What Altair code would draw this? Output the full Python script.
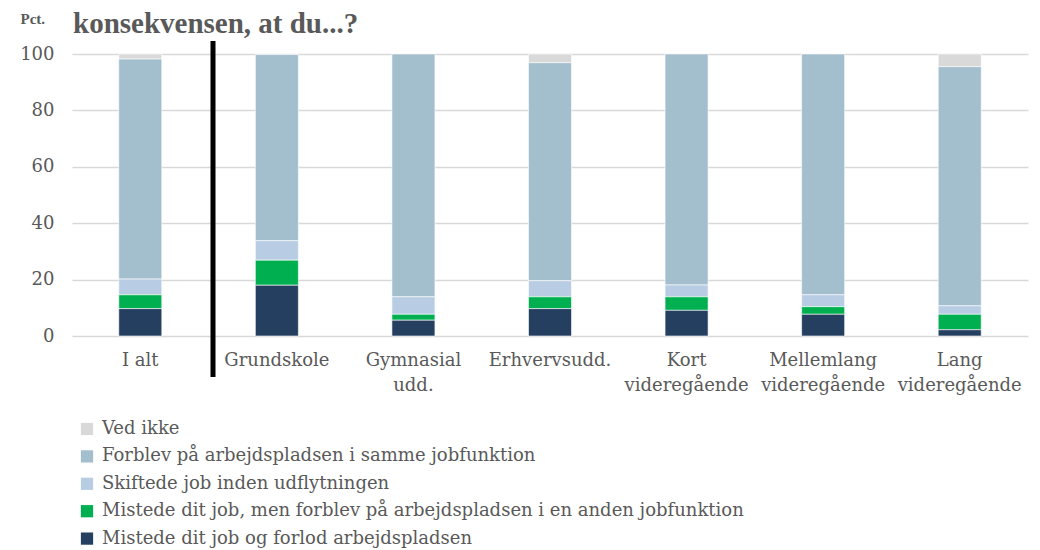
import altair as alt
import pandas as pd

title_text = "konsekvensen, at du...?"
categories = ["I alt", "Grundskole", "Gymnasial\nudd.", "Erhvervsudd.",
              "Kort\nvideregående", "Mellemlang\nvideregående", "Lang\nvideregående"]
series_names = [
    "Ved ikke",
    "Forblev på arbejdspladsen i samme jobfunktion",
    "Skiftede job inden udflytningen",
    "Mistede dit job, men forblev på arbejdspladsen i en anden jobfunktion",
    "Mistede dit job og forlod arbejdspladsen",
]
ved_ikke = [1.8, 0.2, 0.0, 3.1, 0.0, 0.0, 4.5]
forblev = [78.0, 66.0, 86.1, 77.3, 81.9, 85.4, 84.8]
skiftede = [5.6, 6.9, 6.2, 5.7, 4.2, 4.2, 3.0]
mistede_anden = [4.9, 8.9, 2.1, 4.2, 4.8, 2.7, 5.5]
mistede_forlod = [9.7, 18.0, 5.6, 9.7, 9.1, 7.7, 2.2]
colors = ["#D9D9D9", "#A3BECC", "#B8CCE4", "#00B050", "#243F60"]
y_ticks = [0, 20, 40, 60, 80, 100]

series_values = [ved_ikke, forblev, skiftede, mistede_anden, mistede_forlod]
rows = []
for si, (name, vals) in enumerate(zip(series_names, series_values)):
    for ci, cat in enumerate(categories):
        rows.append({"cat": cat, "serie": name, "value": vals[ci], "ord": 4 - si})
df = pd.DataFrame(rows)

FONT = "DejaVu Serif"
TFONT = "Liberation Serif"
GREY = "#595959"

bars = alt.Chart(df).mark_bar(stroke="white", strokeWidth=0.6).encode(
    x=alt.X("cat:N", sort=categories, title=None,
            scale=alt.Scale(paddingInner=0.685, paddingOuter=0.3425),
            axis=alt.Axis(labelAngle=0, domain=False, ticks=False,
                          labelExpr="split(datum.label, '\\n')",
                          labelFont=FONT, labelFontSize=18, labelColor=GREY,
                          labelLineHeight=25, labelPadding=15)),
    y=alt.Y("value:Q", stack="zero",
            scale=alt.Scale(domain=[0, 100], nice=False),
            axis=alt.Axis(values=y_ticks, title="Pct.", titleAngle=0,
                          titleAlign="left", titleBaseline="alphabetic",
                          titleX=-52, titleY=-31, titleFont=TFONT,
                          titleFontSize=15, titleFontWeight="bold", titleColor=GREY,
                          domain=False, ticks=False, labelFont=FONT,
                          labelFontSize=18, labelColor=GREY, labelPadding=18,
                          grid=True, gridColor="#D9D9D9", gridWidth=1.3)),
    color=alt.Color("serie:N", scale=alt.Scale(domain=series_names, range=colors),
                    legend=alt.Legend(title=None, orient="none", legendX=6, legendY=366,
                                      direction="vertical", symbolType="square",
                                      symbolSize=150, symbolStrokeWidth=0,
                                      labelFont=FONT, labelFontSize=18,
                                      labelColor=GREY, labelOffset=6, rowPadding=9.4,
                                      labelLimit=800)),
    order=alt.Order("ord:Q", sort="ascending"),
)

divider = alt.Chart(pd.DataFrame({"k": [0]})).mark_rule(color="black", strokeWidth=5).encode(
    x=alt.value(141), y=alt.value(-13), y2=alt.value(323)
)

title = alt.Chart(pd.DataFrame({"t": [title_text]})).mark_text(
    font=TFONT, fontSize=29, fontWeight="bold", color=GREY,
    align="left", baseline="alphabetic"
).encode(x=alt.value(1), y=alt.value(-21), text="t:N")

chart = alt.layer(bars, divider, title).properties(
    width=956, height=282,
    padding={"left": 64, "top": 46, "right": 4, "bottom": 214},
    autosize=alt.AutoSizeParams(type="none"),
).configure_view(stroke=None)

chart.save("out.html", embed_options={"renderer": "svg", "actions": False})
